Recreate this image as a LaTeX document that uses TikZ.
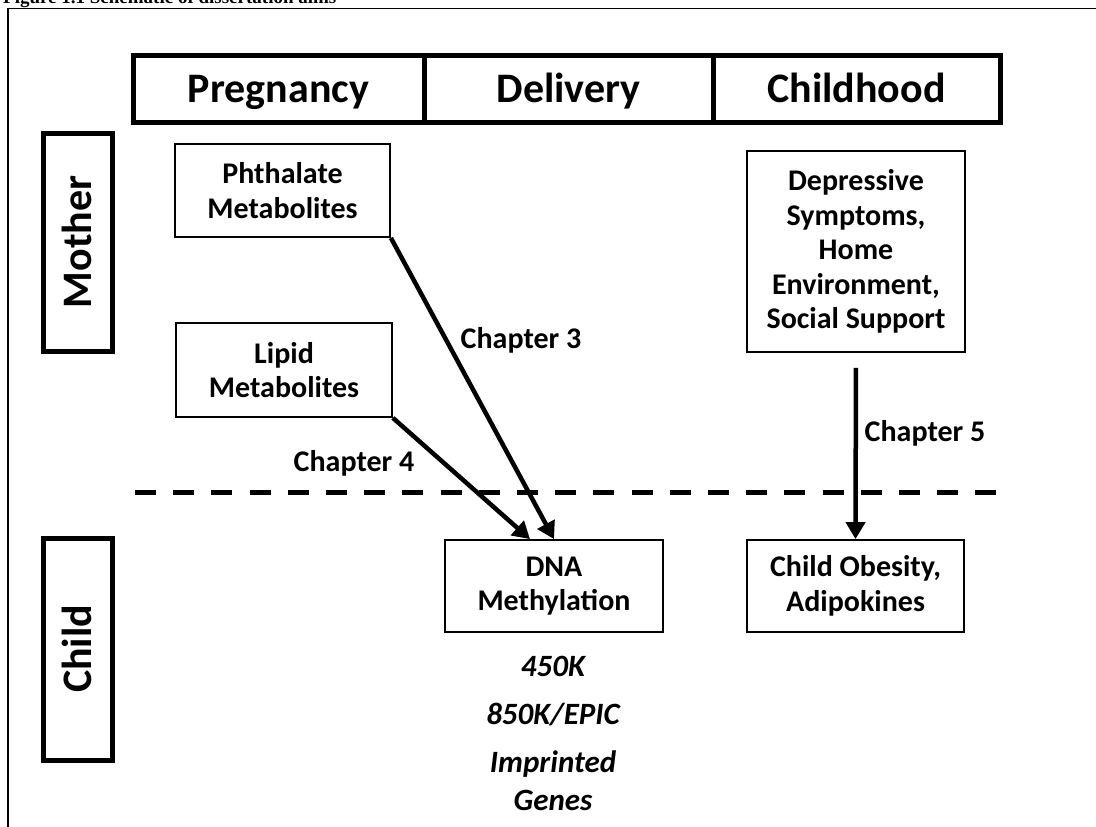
\documentclass[tikz,border=0pt]{standalone}
\usepackage{fontspec}
\setmainfont{Carlito}
\newfontfamily\captionfont{Liberation Serif}
\usetikzlibrary{arrows.meta}

\tikzset{
  stage/.style={draw, line width=5pt, minimum height=67pt, inner sep=0pt,
    text height=31pt, text depth=4pt,
    font=\fontsize{42}{48}\selectfont\bfseries},
  who/.style={stage, rotate=90, minimum height=69pt},
  aim/.style={draw, line width=1.8pt, align=center, inner sep=0pt,
    font=\fontsize{30}{34.5}\selectfont\bfseries},
  chapter/.style={font=\fontsize{30}{36}\selectfont\bfseries, inner sep=0pt},
  assay/.style={font=\fontsize{31}{38}\selectfont\bfseries\itshape, align=center, inner sep=0pt},
  aimarrow/.style={line width=4.5pt, -{Triangle[width=19pt,length=17pt]}}
}

\begin{document}
\begin{tikzpicture}[x=1pt, y=-1pt, line join=miter]
        \useasboundingbox (0,0) rectangle (1096,827);
        \clip (0,0) rectangle (1096,827);

        % caption, cut by the top edge
        \node[anchor=base west, inner sep=0pt, font=\captionfont\bfseries\fontsize{19}{22}\selectfont] (caption) at (3,3) {Figure 1.1 Schematic of dissertation aims};
        \draw[line width=1.2pt] (8,840) -- (8,8.5) -- (1110,8.5);

        % time line
        \node[stage, minimum width=291pt] (preg) at (278.5,88.5) {Pregnancy};
        \node[stage, minimum width=289pt] (deliv) at (568.5,88.5) {Delivery};
        \node[stage, minimum width=287pt] (child) at (856.5,88.5) {Childhood};

        % who
        \node[who, minimum width=218pt] (mother) at (77.5,242) {Mother};
        \node[who, minimum width=222pt] (kid) at (78,649) {Child};

        % exposures and outcomes
        \node[aim, minimum width=215pt, minimum height=93pt] (phth) at (282.5,190.5) {Phthalate\\Metabolites};
        \node[aim, minimum width=216pt, minimum height=94pt] (lipid) at (284,370) {Lipid\\Metabolites};
        \node[aim, minimum width=218pt, minimum height=201pt] (depr) at (856,251.5) {Depressive\\Symptoms,\\Home\\Environment,\\Social Support};
        \node[aim, minimum width=218pt, minimum height=92pt] (dna) at (554,586) {DNA\\Methylation};
        \node[aim, minimum width=217pt, minimum height=92pt] (obes) at (855.5,586) {Child Obesity,\\Adipokines};

        \node[assay] (k450) at (553,666) {450K};
        \node[assay] (epic) at (553,715) {850K/EPIC};
        \node[assay] (impr) at (553,781) {Imprinted\\Genes};

        % mother / child border
        \draw[line width=5pt, dash pattern=on 21pt off 17.2pt] (135,492) -- (998,492);

        \draw[aimarrow] (phth.south east) -- (dna.north);
        \draw[aimarrow] (lipid.south east) -- ([xshift=-24pt]dna.north);
        \draw[aimarrow, shorten <=15pt] (depr.south) -- (obes.north);

        \node[chapter] (ch3) at (521,340) {Chapter 3};
        \node[chapter] (ch4) at (354,463) {Chapter 4};
        \node[chapter] (ch5) at (925,433) {Chapter 5};
\end{tikzpicture}
\end{document}
